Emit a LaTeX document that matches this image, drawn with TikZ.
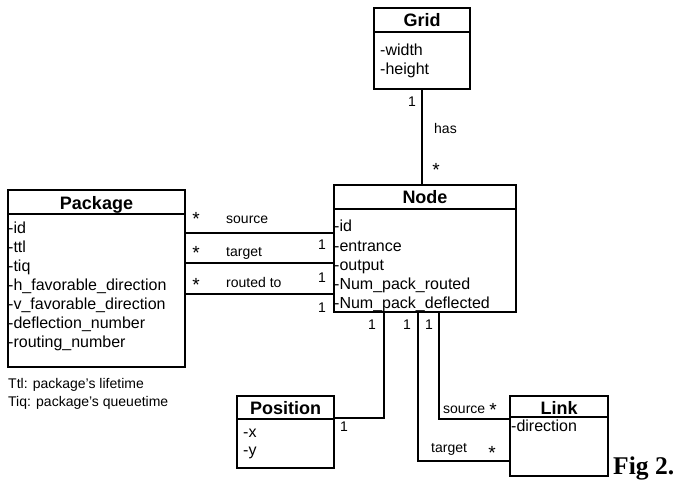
\documentclass[tikz,border=0pt]{standalone}
\usepackage{fontspec}
\setmainfont{Liberation Sans}
\newfontfamily\figfont{Liberation Serif}
\usetikzlibrary{calc}
\tikzset{
  classbox/.style={draw, line width=2pt, anchor=north west, inner sep=0pt},
  sepline/.style={line width=2pt},
  conn/.style={line width=2pt},
  titletext/.style={font=\fontsize{18}{20}\selectfont\bfseries, inner sep=0pt, anchor=base},
  attr/.style={font=\fontsize{16}{19}\selectfont, inner sep=0pt, anchor=base west},
  lbl/.style={font=\fontsize{14}{16}\selectfont, inner sep=0pt, anchor=base west},
  mult/.style={font=\fontsize{14}{16}\selectfont, inner sep=0pt, anchor=center},
  star/.style={font=\fontsize{19}{20}\selectfont, inner sep=0pt, anchor=north},
}
\begin{document}
\begin{tikzpicture}[x=1pt,y=-1pt]
\useasboundingbox (0,0) rectangle (675,485);

% ---- classes
\node[classbox, minimum width=96pt, minimum height=81pt] (grid) at (373,7) {};
\node[classbox, minimum width=177pt, minimum height=177pt] (package) at (7,189) {};
\node[classbox, minimum width=182pt, minimum height=127pt] (node) at (333,184) {};
\node[classbox, minimum width=97pt, minimum height=72pt] (position) at (236,395) {};
\node[classbox, minimum width=98pt, minimum height=80pt] (link) at (509,395) {};

% header separators
\draw[sepline] ($(grid.north west)+(0,25)$) -- ($(grid.north east)+(0,25)$);
\draw[sepline] ($(package.north west)+(0,25)$) -- ($(package.north east)+(0,25)$);
\draw[sepline] ($(node.north west)+(0,25)$) -- ($(node.north east)+(0,25)$);
\draw[sepline] ($(position.north west)+(0,24)$) -- ($(position.north east)+(0,24)$);
\draw[sepline] ($(link.north west)+(0,22)$) -- ($(link.north east)+(0,22)$);

% titles
\node[titletext] (grid-t) at ($(grid.north)+(0,19)$) {Grid};
\node[titletext] (package-t) at ($(package.north)+(0,20)$) {Package};
\node[titletext] (node-t) at ($(node.north)+(0,19)$) {Node};
\node[titletext] (position-t) at ($(position.north)+(0,19)$) {Position};
\node[titletext] (link-t) at ($(link.north)+(0,19)$) {Link};

% attributes
\foreach \t [count=\i] in {-width,-height}
  \node[attr] (grid-a\i) at (380,{55+(\i-1)*19}) {\t};
\foreach \t [count=\i] in {-id,-ttl,-tiq,-h\_favorable\_direction,-v\_favorable\_direction,-deflection\_number,-routing\_number}
  \node[attr] (package-a\i) at (8,{233+(\i-1)*19}) {\t};
\foreach \t [count=\i] in {-id,-entrance,-output,-Num\_pack\_routed,-Num\_pack\_deflected}
  \node[attr] (node-a\i) at (334,{231.7+(\i-1)*19.3}) {\t};
\foreach \t [count=\i] in {-x,-y}
  \node[attr] (position-a\i) at (243,{437+(\i-1)*18.5}) {\t};
\node[attr] (link-a1) at (511,431.7) {-direction};

% ---- connectors
\draw[conn] (grid.south) -- (grid.south |- node.north);
\draw[conn] (package.east |- 0,233) -- (node.west |- 0,233);
\draw[conn] (package.east |- 0,263) -- (node.west |- 0,263);
\draw[conn] (package.east |- 0,294) -- (node.west |- 0,294);
\draw[conn] (node.south -| 384,0) |- (position.east |- 0,418);
\draw[conn] (node.south -| 439,0) |- (link.west |- 0,419);
\draw[conn] (node.south -| 418,0) |- (link.west |- 0,461);

% ---- labels
\node[mult] (m-grid) at (412,102) {1};
\node[lbl] (has) at (434,133) {has};
\node[star] (s-grid) at (436,163) {*};

\node[star] (s-src) at (196,212) {*};
\node[star] (s-tgt) at (196,246) {*};
\node[star] (s-rt) at (196,278) {*};
\node[lbl] (l-src) at (226,223) {source};
\node[lbl] (l-tgt) at (226,256) {target};
\node[lbl] (l-rt) at (226,287) {routed to};
\node[mult] (m-src) at (322,245) {1};
\node[mult] (m-tgt) at (322,278) {1};
\node[mult] (m-rt) at (322,308) {1};

\node[mult] (m-pos1) at (372,325) {1};
\node[mult] (m-tl) at (407,325) {1};
\node[mult] (m-sl) at (429,325) {1};
\node[mult] (m-pos2) at (344,427) {1};

\node[lbl] (l-lsrc) at (443,413) {source};
\node[star] (s-lsrc) at (493,403) {*};
\node[lbl] (l-ltgt) at (431,452) {target};
\node[star] (s-ltgt) at (492,446) {*};

\node[lbl] (note1) at (8,388) {Ttl: package’s lifetime};
\node[lbl] (note2) at (8,406) {Tiq: package’s queuetime};

\node[font=\figfont\fontsize{25.5}{27}\selectfont\bfseries, inner sep=0pt, anchor=base west] (fig) at (613,474) {Fig 2.};
\end{tikzpicture}
\end{document}
